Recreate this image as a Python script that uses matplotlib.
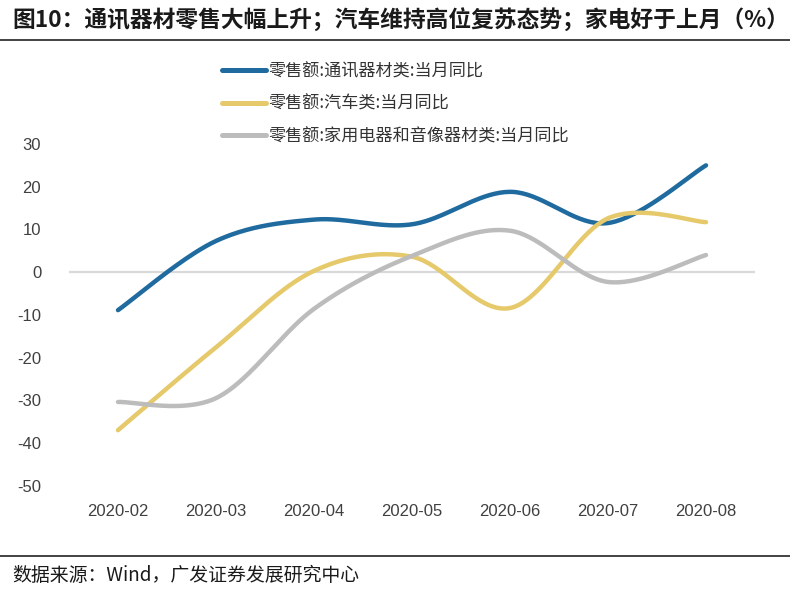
import numpy as np
import matplotlib
matplotlib.use("Agg")
import matplotlib.pyplot as plt
from matplotlib.lines import Line2D

# ---------- datos ----------
months = ["2020-02", "2020-03", "2020-04", "2020-05", "2020-06", "2020-07", "2020-08"]
telecom = [-8.9, 7.3, 12.3, 11.2, 18.8, 11.5, 25.0]
autos = [-37.0, -17.6, 0.3, 3.6, -8.4, 12.6, 11.7]
appliances = [-30.4, -29.5, -8.6, 3.8, 9.7, -2.3, 4.0]

series_names = [
    "零售额:通讯器材类:当月同比",
    "零售额:汽车类:当月同比",
    "零售额:家用电器和音像器材类:当月同比",
]
yticks = [30, 20, 10, 0, -10, -20, -30, -40, -50]

title = "图10：通讯器材零售大幅上升；汽车维持高位复苏态势；家电好于上月（%）"
source = "数据来源：Wind，广发证券发展研究中心"

# ---------- colores ----------
C_BLUE = "#1f6a9e"
C_YELLOW = "#e5c96b"
C_GRAY = "#bcbcbc"
C_ZERO = "#d9d9d9"
C_TICK = "#404040"

CJK = ["Noto Sans CJK SC", "DejaVu Sans"]
LAT = ["Liberation Sans", "DejaVu Sans"]

plt.rcParams["axes.unicode_minus"] = False


def _smooth(y, n=40):
    """Catmull-Rom (tipo Excel) a traves de los puntos."""
    y = np.asarray(y, dtype=float)
    x = np.arange(len(y), dtype=float)
    px = np.concatenate([[x[0]], x, [x[-1]]])
    py = np.concatenate([[y[0]], y, [y[-1]]])
    xs, ys = [], []
    t = np.linspace(0, 1, n)
    for i in range(1, len(px) - 2):
        p0 = np.array([px[i], py[i]])
        p3 = np.array([px[i + 1], py[i + 1]])
        c1 = p0 + (p3 - np.array([px[i - 1], py[i - 1]])) / 6.0
        c2 = p3 - (np.array([px[i + 2], py[i + 2]]) - p0) / 6.0
        b = ((1 - t) ** 3)[:, None] * p0 + (3 * (1 - t) ** 2 * t)[:, None] * c1 \
            + (3 * (1 - t) * t ** 2)[:, None] * c2 + (t ** 3)[:, None] * p3
        xs.append(b[:, 0]); ys.append(b[:, 1])
    return np.concatenate(xs), np.concatenate(ys)


fig = plt.figure(figsize=(7.9, 5.96), dpi=100)
ax = fig.add_axes([69 / 790, 1 - 485.7 / 596, (755 - 69) / 790, (485.7 - 144) / 596])

ax.axhline(0, color=C_ZERO, linewidth=1.6, zorder=1)
handles = []
for vals, col in ((telecom, C_BLUE), (autos, C_YELLOW), (appliances, C_GRAY)):
    xs, ys = _smooth(vals)
    ax.plot(xs, ys, color=col, linewidth=3.2, solid_capstyle="round", zorder=3)
    handles.append(Line2D([], [], color=col, linewidth=3.6, solid_capstyle="round"))

ax.set_xlim(-0.5, len(months) - 0.5)
ax.set_ylim(-50, 30)
ax.set_xticks(range(len(months)))
ax.set_xticklabels(months)
ax.set_yticks(yticks)
for lab in ax.get_xticklabels() + ax.get_yticklabels():
    lab.set_family(LAT)
    lab.set_fontsize(12)
    lab.set_color(C_TICK)
ax.tick_params(axis="y", length=0, pad=20)
ax.tick_params(axis="x", length=0, pad=13)
for s in ax.spines.values():
    s.set_visible(False)

leg = fig.legend(handles, series_names, loc="upper left",
                 bbox_to_anchor=(222 / 790, 1 - 62 / 596),
                 frameon=False, handlelength=2.6, handletextpad=0.12,
                 labelspacing=0.86, borderpad=0, borderaxespad=0,
                 prop={"family": CJK, "size": 12.3})
for txt in leg.get_texts():
    txt.set_color("#333333")

# titulo y pie
fig.text(12 / 790, 1 - 21 / 596, title, family=CJK, fontsize=16.4, fontweight="bold",
         color="#1a1a1a", ha="left", va="center")
fig.add_artist(Line2D([0, 1], [1 - 39.5 / 596] * 2, color="#222222", linewidth=1.2))
fig.add_artist(Line2D([0, 1], [1 - 556 / 596] * 2, color="#222222", linewidth=1.2))
fig.text(12 / 790, 1 - 575 / 596, source, family=CJK, fontsize=13.6,
         color="#1a1a1a", ha="left", va="center")

fig.savefig("out.png", dpi=100)
